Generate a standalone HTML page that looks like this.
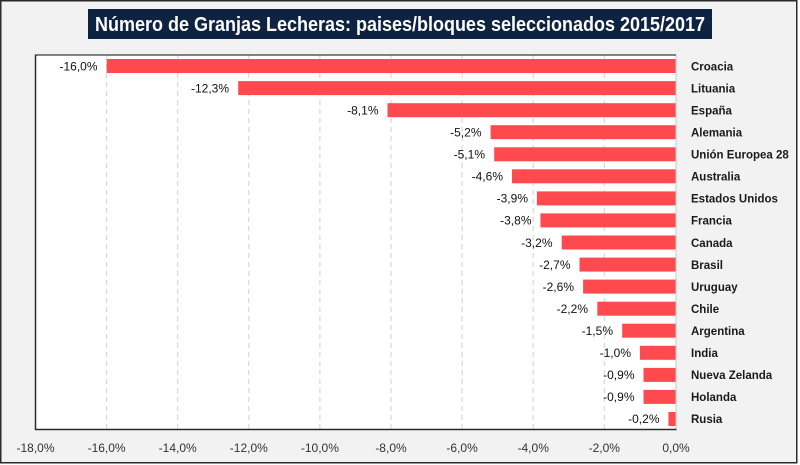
<!DOCTYPE html>
<html><head><meta charset="utf-8"><style>
html,body{margin:0;padding:0;background:#fff;}
svg{display:block;}
text{font-family:"Liberation Sans",Arial,sans-serif;}
</style></head><body>
<svg width="800" height="465" viewBox="0 0 800 465" xmlns="http://www.w3.org/2000/svg">
<rect x="0" y="0" width="800" height="465" fill="#ffffff"/>
<rect x="0.75" y="0.75" width="796" height="462" fill="#f2f2f2" stroke="#2b2b2b" stroke-width="1.5"/>
<!-- title -->
<rect x="88" y="9" width="624" height="30" fill="#0e2241"/>
<text x="400" y="31" text-anchor="middle" font-size="20" font-weight="bold" fill="#ffffff" textLength="610" lengthAdjust="spacingAndGlyphs">Número de Granjas Lecheras: paises/bloques seleccionados 2015/2017</text>
<!-- plot area -->
<rect x="35.5" y="55" width="640.5" height="374.5" fill="#ffffff"/>
<g stroke="#d0d0d0" stroke-width="1" stroke-dasharray="5,4">
<line x1="106.6" y1="55" x2="106.6" y2="429.5"/>
<line x1="177.7" y1="55" x2="177.7" y2="429.5"/>
<line x1="248.8" y1="55" x2="248.8" y2="429.5"/>
<line x1="319.9" y1="55" x2="319.9" y2="429.5"/>
<line x1="391.0" y1="55" x2="391.0" y2="429.5"/>
<line x1="462.1" y1="55" x2="462.1" y2="429.5"/>
<line x1="533.2" y1="55" x2="533.2" y2="429.5"/>
<line x1="604.3" y1="55" x2="604.3" y2="429.5"/>
</g>
<line x1="676" y1="55" x2="676" y2="429.5" stroke="#c8c8c8" stroke-width="1"/>
<!-- bars -->
<g fill="#fe4a4e">
<rect x="106.7" y="59.0" width="568.8" height="14"/>
<rect x="238.2" y="81.1" width="437.3" height="14"/>
<rect x="387.5" y="103.2" width="288.0" height="14"/>
<rect x="490.6" y="125.2" width="184.9" height="14"/>
<rect x="494.2" y="147.3" width="181.3" height="14"/>
<rect x="512.0" y="169.3" width="163.5" height="14"/>
<rect x="536.9" y="191.4" width="138.6" height="14"/>
<rect x="540.4" y="213.4" width="135.1" height="14"/>
<rect x="561.7" y="235.5" width="113.8" height="14"/>
<rect x="579.5" y="257.6" width="96.0" height="14"/>
<rect x="583.1" y="279.6" width="92.4" height="14"/>
<rect x="597.3" y="301.7" width="78.2" height="14"/>
<rect x="622.2" y="323.7" width="53.3" height="14"/>
<rect x="639.9" y="345.8" width="35.6" height="14"/>
<rect x="643.5" y="367.9" width="32.0" height="14"/>
<rect x="643.5" y="389.9" width="32.0" height="14"/>
<rect x="668.4" y="412.0" width="7.1" height="14"/>
</g>
<!-- plot borders -->
<line x1="35.5" y1="55" x2="676" y2="55" stroke="#3a3a3a" stroke-width="1.2"/>
<line x1="35.5" y1="54.5" x2="35.5" y2="430" stroke="#2a2a2a" stroke-width="1.5"/>
<line x1="35" y1="429.5" x2="676.5" y2="429.5" stroke="#2a2a2a" stroke-width="1.5"/>
<!-- data labels -->
<g font-size="12" fill="#111" text-anchor="end">
<text x="97.5" y="70.3">-16,0%</text>
<text x="229" y="92.4">-12,3%</text>
<text x="378.5" y="114.4">-8,1%</text>
<text x="481.5" y="136.5">-5,2%</text>
<text x="485" y="158.5">-5,1%</text>
<text x="503" y="180.6">-4,6%</text>
<text x="528" y="202.6">-3,9%</text>
<text x="531.5" y="224.7">-3,8%</text>
<text x="552.5" y="246.8">-3,2%</text>
<text x="570.5" y="268.8">-2,7%</text>
<text x="574" y="290.9">-2,6%</text>
<text x="588" y="312.9">-2,2%</text>
<text x="613" y="335.0">-1,5%</text>
<text x="631" y="357.1">-1,0%</text>
<text x="634.5" y="379.1">-0,9%</text>
<text x="634.5" y="401.2">-0,9%</text>
<text x="659.5" y="423.2">-0,2%</text>
</g>
<!-- category labels -->
<g font-size="11.5" font-weight="bold" fill="#1a1a1a">
<text x="691" y="70.3">Croacia</text>
<text x="691" y="92.4">Lituania</text>
<text x="691" y="114.4">España</text>
<text x="691" y="136.5">Alemania</text>
<text x="691" y="158.5">Unión Europea 28</text>
<text x="691" y="180.6">Australia</text>
<text x="691" y="202.6">Estados Unidos</text>
<text x="691" y="224.7">Francia</text>
<text x="691" y="246.8">Canada</text>
<text x="691" y="268.8">Brasil</text>
<text x="691" y="290.9">Uruguay</text>
<text x="691" y="312.9">Chile</text>
<text x="691" y="335.0">Argentina</text>
<text x="691" y="357.1">India</text>
<text x="691" y="379.1">Nueva Zelanda</text>
<text x="691" y="401.2">Holanda</text>
<text x="691" y="423.2">Rusia</text>
</g>
<!-- axis tick labels -->
<g font-size="12" fill="#333" text-anchor="middle">
<text x="35.5" y="452">-18,0%</text>
<text x="106.6" y="452">-16,0%</text>
<text x="177.7" y="452">-14,0%</text>
<text x="248.8" y="452">-12,0%</text>
<text x="319.9" y="452">-10,0%</text>
<text x="391.0" y="452">-8,0%</text>
<text x="462.1" y="452">-6,0%</text>
<text x="533.2" y="452">-4,0%</text>
<text x="604.3" y="452">-2,0%</text>
<text x="676" y="452">0,0%</text>
</g>
</svg>
</body></html>
